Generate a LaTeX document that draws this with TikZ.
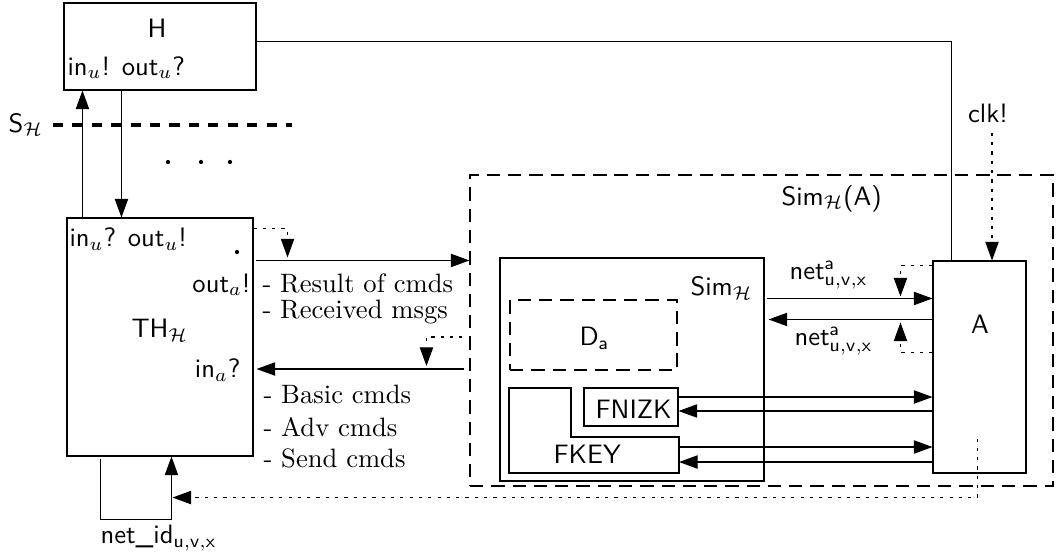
\documentclass[tikz,border=0pt]{standalone}
\usepackage{amsmath,amssymb}
\usepackage{tikz}
\usetikzlibrary{arrows.meta,calc,positioning,fit}
\newcommand{\Hset}{\mathcal{H}}
\newcommand{\netax}{net$^{\mathsf{a}}_{\mathsf{u,v,x}}$}

\begin{document}
\begin{tikzpicture}[x=0.01322cm, y=-0.01322cm,
  >={Triangle[length=7pt,width=5pt]},
  every node/.style={inner sep=0pt},
  box/.style={draw, fit={#1}},
  dashbox/.style={box={#1}, dash pattern=on 5pt off 3pt},
  dotline/.style={dash pattern=on 1.2pt off 2.3pt},
  lbl/.style={font=\sffamily}]
  \useasboundingbox (0,0) rectangle (1061,557);
  % boxes
  \node[box={(64,3) (256,90)}] (H) {};
  \node[box={(67,218) (253,456)}] (TH) {};
  \node[dashbox={(470,175) (1053,486)}] (simA) {};
  \node[box={(500,258) (764,481)}] (simH) {};
  \node[dashbox={(510,300) (677,370)}] (Da) {};
  \node[box={(584,388) (678,426)}] (fnizk) {};
  \node[box={(933,261) (1026,473)}] (A) {};
  \draw (509,388) -- (571,388) -- (571,437) -- (679,437) -- (679,473) -- (509,473) -- cycle;
  \coordinate (fkey) at (679,455);

  % labels
  \node[lbl, anchor=base] (Hname) at (157,37) {H};
  \node[lbl, anchor=base west] (Hport) at (67,75) {in$_u$! out$_u$?};
  \node[lbl, anchor=base west] (S) at (8,132) {S$_\Hset$};
  \node[lbl, anchor=base west] (THport) at (69,246) {in$_u$? out$_u$!};
  \node[lbl, anchor=base east] (outa) at (251,292) {out$_a$!};
  \node[lbl, anchor=base west] (THname) at (131,337) {TH$_\Hset$};
  \node[lbl, anchor=base east] (ina) at (241,377) {in$_a$?};
  \node[anchor=base west] (res) at (262,292) {- Result of cmds};
  \node[anchor=base west] (rec) at (262,318) {- Received msgs};
  \foreach \y/\t [count=\i] in {403/Basic cmds, 436/Adv cmds, 467/Send cmds}
    \node[anchor=base west] (cmd\i) at (263,\y) {- \t};
  \node[lbl, anchor=base west] (netid) at (100,543) {net\_id$_{\mathsf{u,v,x}}$};
  \node[lbl, anchor=base west] (simAname) at (781,205) {Sim$_\Hset$(A)};
  \node[lbl, anchor=base west] (simHname) at (690,295) {Sim$_\Hset$};
  \node[lbl, anchor=base west] (Daname) at (579,345) {D$_{\mathsf{a}}$};
  \node[lbl, anchor=base west] (fnizkname) at (595,418) {FNIZK};
  \node[lbl, anchor=base west] (fkeyname) at (553,463) {FKEY};
  \node[lbl, anchor=base west] (net1) at (789,279) {\netax};
  \node[lbl, anchor=base west] (net2) at (794,345) {\netax};
  \node[lbl, anchor=base] (Aname) at (980,333) {A};
  \node[lbl, anchor=base] (clk) at (988,122) {clk!};

  \draw[line width=1.2pt, dash pattern=on 3.8pt off 3.5pt] (53,125) -- (292,125);
  \foreach \x in {168,201,230} \fill (\x,162) circle (0.8pt);
  \fill (237,252) circle (0.8pt);

  % connectors
  \draw ($(H.north east)+(0,39)$) -| ($(A.north west)+(19,0)$);
  \draw[->] ($(TH.north west)+(16,0)$) coordinate (up) -- (up |- H.south);
  \draw[->] ($(H.south west)+(58,0)$) coordinate (dn) -- (dn |- TH.north);

  \draw[->] ($(TH.north east)+(2,43)$) coordinate (out) -- (out -| simA.west);
  \draw[dotline, ->] ($(TH.north east)+(0,11)$) -- ++(34,0) coordinate (c1) -- ($(c1 |- out)+(0,-3)$);
  \coordinate (in) at ($(TH.east)+(3,32)$);
  \draw[->] ($(in -| simA.west)+(-5,0)$) -- (in);
  \draw[dotline, ->] ($(simA.west |- TH.east)+(-7,0)$) -- ++(-36,0) coordinate (c2) -- ($(c2 |- in)+(0,-3)$);

  \draw[->] ($(TH.south west)+(34,2)$) -- ++(0,61) -| ($(TH.south west)+(105,0)$);
  \draw[dotline, ->] ($(A.south west)+(45,-35)$) |- ($(TH.south west)+(106,41)$);
  \draw[dotline, ->] ($(clk.south)+(4,10)$) coordinate (c3) -- (c3 |- A.north);

  \coordinate (n1) at ($(simH.north east)+(2,41)$);
  \coordinate (n2) at ($(simH.north east)+(4,62)$);
  \draw[->] (n1) -- (n1 -| A.west);
  \draw[->] (n2 -| A.west) -- (n2);
  \draw[dotline, ->] ($(A.north west)+(0,5)$) -- ++(-32,0) coordinate (c4) -- ($(c4 |- n1)+(0,-2)$);
  \draw[dotline, ->] ($(A.north west)+(0,92)$) -- ++(-32,0) coordinate (c5) -- ($(c5 |- n2)+(0,3)$);

  \foreach \f/\a/\b in {fnizk.east/-10/4, fkey/-8/7} {
    \coordinate (p) at ($(\f)+(0,\a)$);
    \coordinate (q) at ($(\f)+(0,\b)$);
    \draw[->] (p) -- (p -| A.west);
    \draw[->] (q -| A.west) -- (q);
  }
\end{tikzpicture}
\end{document}
